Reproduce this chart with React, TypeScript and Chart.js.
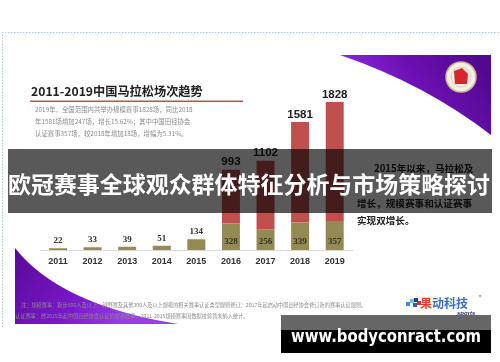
import React, { useEffect, useRef } from "react";
import { Chart, registerables } from "chart.js";

Chart.register(...registerables);

const years = ["2011", "2012", "2013", "2014", "2015", "2016", "2017", "2018", "2019"];
const totalEvents = [22, 33, 39, 51, 134, 993, 1102, 1581, 1828];
const certifiedEvents = [22, 33, 39, 51, 134, 328, 256, 339, 357];

const titleText = "2011-2019中国马拉松场次趋势";
const paragraphLines = [
  "2019年，全国范围内共举办规模赛事1828场，同比2018",
  "年1581场增加247场，增长15.62%；其中中国田径协会",
  "认证赛事357场，较2018年增加18场，增幅为5.31%。",
];
const sideLines = ["2015年以来，马拉松及", "增长，规模赛事和认证赛事", "实现双增长。"];
const footerLines = [
  "注：规模赛事：跑步800人及以上、越野赛及其他300人及以上规模的相关赛事认证类型规则修订：2017年起启动中国田径协会修订新的赛事认证规则。",
  "认证赛事：经2015年起中国田径协会认证的规模赛事。2011-2015规模赛事因数据校验暂未纳入统计。",
];
const bannerText = "欧冠赛事全球观众群体特征分析与市场策略探讨";
const urlText = "www.bodyconract.com";

const RED = "#c0504d";
const OLIVE = "#948a54";
const CJK = '"Noto Sans CJK SC", "Noto Sans", sans-serif';

const decorPlugin = {
  id: "decor",
  beforeDraw(chart: any) {
    const ctx: CanvasRenderingContext2D = chart.ctx;
    ctx.save();
    ctx.fillStyle = "#ffffff";
    ctx.fillRect(0, 0, 500, 362);

    // dotted slide border
    ctx.strokeStyle = "#a9c8e8";
    ctx.lineWidth = 1;
    ctx.setLineDash([1.5, 1.5]);
    ctx.beginPath();
    ctx.moveTo(2.5, 327);
    ctx.lineTo(2.5, 32.5);
    ctx.lineTo(500, 32.5);
    ctx.stroke();
    ctx.setLineDash([]);

    // purple top-right swoosh
    let g = ctx.createLinearGradient(380, 120, 470, 50);
    g.addColorStop(0, "#8a2be2");
    g.addColorStop(0.5, "#6a0fb0");
    g.addColorStop(1, "#52098e");
    ctx.fillStyle = g;
    ctx.beginPath();
    ctx.moveTo(340, 55);
    ctx.lineTo(491, 55);
    ctx.lineTo(491, 135);
    ctx.quadraticCurveTo(425, 84, 340, 55);
    ctx.closePath();
    ctx.fill();

    // purple bottom-left swoosh
    g = ctx.createLinearGradient(20, 250, 120, 325);
    g.addColorStop(0, "#5a0a9c");
    g.addColorStop(0.6, "#7a18c8");
    g.addColorStop(1, "#9a3ce8");
    ctx.fillStyle = g;
    ctx.beginPath();
    ctx.moveTo(15, 248);
    ctx.lineTo(15, 324);
    ctx.lineTo(178, 324);
    ctx.quadraticCurveTo(60, 305, 15, 248);
    ctx.closePath();
    ctx.fill();

    // round emblem
    ctx.beginPath();
    ctx.arc(461, 77, 15, 0, Math.PI * 2);
    ctx.fillStyle = "#f4efe4";
    ctx.fill();
    ctx.lineWidth = 1.5;
    ctx.strokeStyle = "#c8b88e";
    ctx.stroke();
    ctx.beginPath();
    ctx.arc(461, 77, 10, 0, Math.PI * 2);
    ctx.strokeStyle = "#ddd2b8";
    ctx.lineWidth = 1;
    ctx.stroke();
    ctx.fillStyle = "#d8262a";
    ctx.beginPath();
    ctx.moveTo(454, 71);
    ctx.lineTo(462, 68);
    ctx.lineTo(468, 74);
    ctx.lineTo(467, 84);
    ctx.lineTo(455, 84);
    ctx.closePath();
    ctx.fill();

    // title
    ctx.fillStyle = "#222222";
    ctx.font = `bold 12.2px ${CJK}`;
    ctx.textAlign = "left";
    ctx.textBaseline = "middle";
    ctx.fillText(titleText, 31, 91);
    ctx.fillStyle = RED;
    ctx.fillRect(30, 100.5, 213, 1.5);

    // paragraph
    ctx.fillStyle = "#8a8a8a";
    ctx.font = `6.4px ${CJK}`;
    paragraphLines.forEach((l, i) => ctx.fillText(l, 35, 110 + i * 12, 178));

    // side text
    ctx.fillStyle = "#222222";
    ctx.font = `bold 9.6px ${CJK}`;
    ctx.fillText(sideLines[0], 374, 168);
    ctx.fillText(sideLines[1], 357, 203);
    ctx.fillText(sideLines[2], 357, 220);

    // footer
    ctx.fillStyle = "#8a8a8a";
    ctx.font = `5.2px ${CJK}`;
    ctx.fillText(footerLines[0], 21, 305, 384);
    ctx.fillText(footerLines[1], 15, 316, 248);

    // logo
    const sq = [
      ["#3a8ee0", 406, 302],
      ["#6cc0f0", 410, 299],
      ["#2b5fb8", 413, 303],
      ["#e02b3a", 417, 301],
      ["#1d3f8a", 414, 298],
    ];
    sq.forEach(([c, x, y]) => {
      ctx.fillStyle = c as string;
      ctx.fillRect(x as number, y as number, 4, 4);
    });
    ctx.fillStyle = "#e8402a";
    ctx.font = `bold 12px ${CJK}`;
    ctx.fillText("果", 420, 303);
    ctx.fillStyle = "#3a6fc8";
    ctx.fillText("动科技", 432, 303);
    ctx.font = `5px ${CJK}`;
    ctx.fillText("®", 479, 297);
    ctx.fillStyle = "#1d2f6a";
    ctx.font = `italic bold 6px "Liberation Sans", sans-serif`;
    ctx.fillText("sports", 457, 313);

    ctx.restore();
  },
  afterDatasetsDraw(chart: any) {
    const ctx: CanvasRenderingContext2D = chart.ctx;
    const m0 = chart.getDatasetMeta(0);
    const m1 = chart.getDatasetMeta(1);
    ctx.save();
    ctx.textAlign = "center";
    certifiedEvents.forEach((v, i) => {
      const bar = m0.data[i];
      ctx.fillStyle = "#333326";
      ctx.font = `bold 9px "Liberation Serif", serif`;
      if (totalEvents[i] > v) {
        ctx.textBaseline = "middle";
        ctx.fillText(String(v), bar.x, bar.base - 8);
      } else {
        ctx.textBaseline = "bottom";
        ctx.fillText(String(v), bar.x, bar.y - 3);
      }
    });
    totalEvents.forEach((t, i) => {
      if (t <= certifiedEvents[i]) return;
      const bar = m1.data[i];
      ctx.fillStyle = "#222222";
      ctx.font = `bold 11.5px "Liberation Sans", sans-serif`;
      ctx.textBaseline = "bottom";
      ctx.fillText(String(t), bar.x, bar.y - 2);
    });
    ctx.restore();
  },
  afterDraw(chart: any) {
    const ctx: CanvasRenderingContext2D = chart.ctx;
    ctx.save();
    // dark banner
    ctx.fillStyle = "rgba(0,0,0,0.65)";
    ctx.fillRect(8, 149, 484, 64);
    ctx.fillStyle = "#ffffff";
    ctx.font = `bold 23px ${CJK}`;
    ctx.textAlign = "center";
    ctx.textBaseline = "middle";
    ctx.fillText(bannerText, 249, 184, 482);

    // url box
    ctx.fillStyle = "#666666";
    ctx.fillRect(281, 315, 210, 15);
    ctx.fillStyle = "#000000";
    ctx.fillRect(281, 330, 210, 23);
    ctx.fillStyle = "#ffffff";
    ctx.font = `bold 17px "DejaVu Sans", sans-serif`;
    ctx.fillText(urlText, 386, 338, 190);
    ctx.restore();
  },
};

export default function App() {
  const ref = useRef<HTMLCanvasElement | null>(null);
  useEffect(() => {
    if (!ref.current) return;
    const chart = new Chart(ref.current, {
      type: "bar",
      data: {
        labels: years,
        datasets: [
          {
            label: "认证赛事",
            data: certifiedEvents,
            backgroundColor: OLIVE,
            barPercentage: 0.52,
            categoryPercentage: 1,
          },
          {
            label: "规模赛事",
            data: totalEvents.map((t, i) => t - certifiedEvents[i]),
            backgroundColor: RED,
            barPercentage: 0.52,
            categoryPercentage: 1,
          },
        ],
      },
      options: {
        animation: false,
        responsive: false,
        devicePixelRatio: 1,
        layout: { padding: { left: 40.7, right: 148, top: 72, bottom: 89.2 } },
        plugins: { legend: { display: false }, tooltip: { enabled: false }, title: { display: false } },
        scales: {
          x: {
            stacked: true,
            grid: { display: false, drawTicks: false },
            border: { display: true, color: "#d9d9d9", width: 1 },
            ticks: {
              color: "#333333",
              font: { family: '"Liberation Sans", sans-serif', size: 9, weight: "bold" },
              padding: 6,
            },
          },
          y: { stacked: true, display: false, min: 0, max: 2200 },
        },
      },
      plugins: [decorPlugin],
    });
    return () => chart.destroy();
  }, []);
  return (
    <div style={{ position: "fixed", left: 0, top: 0, width: 500, height: 362, background: "#fff" }}>
      <canvas ref={ref} width={500} height={362} style={{ display: "block" }} />
    </div>
  );
}
